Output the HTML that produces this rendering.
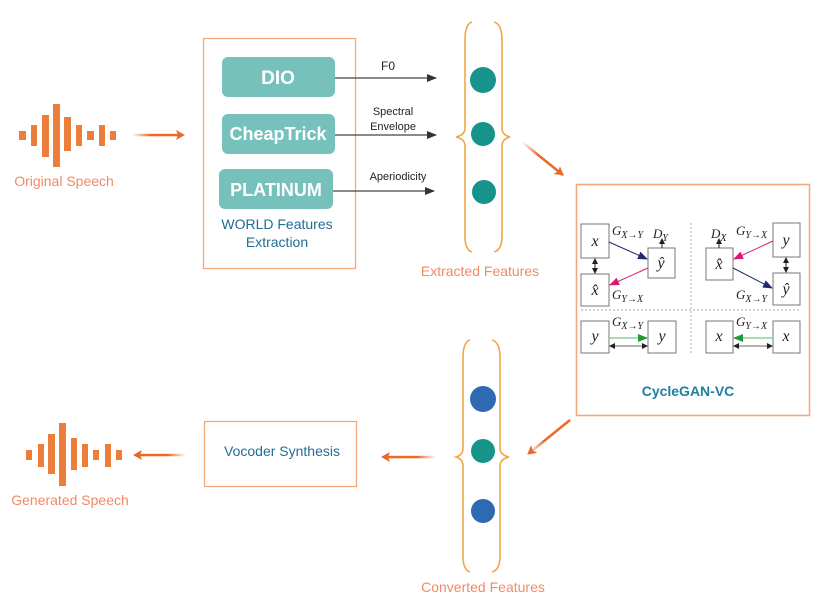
<!DOCTYPE html>
<html><head><meta charset="utf-8"><style>
html,body{margin:0;padding:0;background:#fff;}
svg{display:block;}
text{font-family:"Liberation Sans",sans-serif;}
.m text, text.m{font-family:"Liberation Serif",serif;font-style:italic;}
</style></head><body>
<svg width="830" height="608" viewBox="0 0 830 608" xmlns="http://www.w3.org/2000/svg">
<defs>
<marker id="ab" markerWidth="10" markerHeight="8" refX="9" refY="4" orient="auto" markerUnits="userSpaceOnUse"><path d="M0,0 L10,4 L0,8 z" fill="#333"/></marker>
<marker id="ao" markerWidth="10" markerHeight="10" refX="8" refY="5" orient="auto" markerUnits="userSpaceOnUse"><path d="M0,0 L9,5 L0,10 L2,5 z" fill="#e8692a"/></marker>
<marker id="sm" markerWidth="6" markerHeight="6" refX="5" refY="3" orient="auto-start-reverse" markerUnits="userSpaceOnUse"><path d="M0,0 L6,3 L0,6 z" fill="#222"/></marker>
<marker id="nv" markerWidth="10" markerHeight="8" refX="9" refY="4" orient="auto" markerUnits="userSpaceOnUse"><path d="M0,0 L10,4 L0,8 z" fill="#1f2a6e"/></marker>
<marker id="pk" markerWidth="10" markerHeight="8" refX="9" refY="4" orient="auto" markerUnits="userSpaceOnUse"><path d="M0,0 L10,4 L0,8 z" fill="#d81b75"/></marker>
<marker id="gr" markerWidth="10" markerHeight="8" refX="9" refY="4" orient="auto" markerUnits="userSpaceOnUse"><path d="M0,0 L10,4 L0,8 z" fill="#1e9a3a"/></marker>
<linearGradient id="gr1" x1="0" x2="1"><stop offset="0" stop-color="#e8692a" stop-opacity="0"/><stop offset="0.4" stop-color="#e8692a"/></linearGradient>
<linearGradient id="gr2" x1="1" x2="0"><stop offset="0" stop-color="#e8692a" stop-opacity="0"/><stop offset="0.4" stop-color="#e8692a"/></linearGradient>
</defs>

<!-- Original speech waveform -->
<g fill="#ed7d3b">
<rect x="19" y="131" width="7" height="9"/><rect x="31" y="125" width="6" height="21"/>
<rect x="42" y="115" width="7" height="42"/><rect x="53" y="104" width="7" height="63"/>
<rect x="64" y="117" width="7" height="34"/><rect x="76" y="125" width="6" height="21"/>
<rect x="87" y="131" width="7" height="9"/><rect x="99" y="125" width="6" height="21"/>
<rect x="110" y="131" width="6" height="9"/>
</g>
<text x="64" y="186" font-size="14" fill="#f08a68" text-anchor="middle">Original Speech</text>
<rect x="132" y="133.8" width="46" height="2.5" fill="url(#gr1)"/>
<path d="M176,130 L185,135 L176,140 L178,135 z" fill="#e8692a"/>

<!-- WORLD box -->
<rect x="203.5" y="38.5" width="152" height="230" fill="none" stroke="#f4a77a" stroke-width="1.3"/>
<rect x="222" y="57" width="113" height="40" rx="6" fill="#76c1bb"/>
<text x="278" y="84" font-size="19" font-weight="bold" fill="#fff" text-anchor="middle">DIO</text>
<rect x="222" y="114" width="113" height="40" rx="6" fill="#76c1bb"/>
<text x="278" y="140" font-size="18" font-weight="bold" fill="#fff" text-anchor="middle">CheapTrick</text>
<rect x="219" y="169" width="114" height="40" rx="6" fill="#76c1bb"/>
<text x="276" y="196" font-size="18" font-weight="bold" fill="#fff" text-anchor="middle">PLATINUM</text>
<text x="277" y="229" font-size="14" fill="#1f6e95" text-anchor="middle">WORLD Features</text>
<text x="277" y="247" font-size="14" fill="#1f6e95" text-anchor="middle">Extraction</text>

<!-- feature arrows -->
<line x1="335" y1="78" x2="436" y2="78" stroke="#444" stroke-width="1.2" marker-end="url(#ab)"/>
<line x1="335" y1="135" x2="436" y2="135" stroke="#444" stroke-width="1.2" marker-end="url(#ab)"/>
<line x1="333" y1="191" x2="434" y2="191" stroke="#444" stroke-width="1.2" marker-end="url(#ab)"/>
<text x="388" y="70" font-size="12" fill="#222" text-anchor="middle">F0</text>
<text x="393" y="115" font-size="11" fill="#222" text-anchor="middle">Spectral</text>
<text x="393" y="130" font-size="11" fill="#222" text-anchor="middle">Envelope</text>
<text x="398" y="180" font-size="11" fill="#222" text-anchor="middle">Aperiodicity</text>

<!-- top braces -->
<g fill="none" stroke="#f0a645" stroke-width="1.6">
<path d="M472,22 Q465,24 465,40 L465,128 Q465,135 456,137 Q465,139 465,146 L465,236 Q465,250 472,252"/>
<path d="M494,22 Q502,24 502,40 L502,128 Q502,135 510,137 Q502,139 502,146 L502,236 Q502,250 494,252"/>
</g>
<circle cx="483" cy="80" r="13" fill="#16938a"/>
<circle cx="483" cy="134" r="12" fill="#16938a"/>
<circle cx="484" cy="192" r="12" fill="#16938a"/>
<text x="480" y="276" font-size="14" fill="#f08a68" text-anchor="middle">Extracted Features</text>

<line x1="522" y1="142" x2="563" y2="175" stroke="url(#gr1)" stroke-width="2.5" marker-end="url(#ao)"/>

<!-- CycleGAN box -->
<rect x="576.5" y="184.5" width="233" height="231" fill="none" stroke="#f4a77a" stroke-width="1.5"/>
<line x1="691" y1="223" x2="691" y2="355" stroke="#aaa" stroke-dasharray="2,2"/>
<line x1="581" y1="310" x2="800" y2="310" stroke="#aaa" stroke-dasharray="2,2"/>
<g fill="#fff" stroke="#777" stroke-width="1">
<rect x="581" y="224" width="28" height="34"/><rect x="581" y="274" width="28" height="32"/>
<rect x="648" y="248" width="27" height="30"/>
<rect x="706" y="248" width="27" height="32"/><rect x="773" y="223" width="27" height="34"/><rect x="773" y="273" width="27" height="32"/>
<rect x="581" y="321" width="28" height="32"/><rect x="648" y="321" width="28" height="32"/>
<rect x="706" y="321" width="27" height="32"/><rect x="773" y="321" width="27" height="32"/>
</g>
<g class="m" font-size="16" fill="#222" text-anchor="middle">
<text x="595" y="246">x</text><text x="595" y="295">x̂</text><text x="661" y="268">ŷ</text>
<text x="719" y="269">x̂</text><text x="786" y="245">y</text><text x="786" y="294">ŷ</text>
<text x="595" y="341">y</text><text x="662" y="341">y</text>
<text x="719" y="341">x</text><text x="786" y="341">x</text>
</g>
<g class="m" font-size="13" fill="#222">
<text x="612" y="235">G<tspan font-size="10" dy="3">X→Y</tspan></text>
<text x="653" y="238">D<tspan font-size="10" dy="3">Y</tspan></text>
<text x="612" y="299">G<tspan font-size="10" dy="3">Y→X</tspan></text>
<text x="711" y="238">D<tspan font-size="10" dy="3">X</tspan></text>
<text x="736" y="235">G<tspan font-size="10" dy="3">Y→X</tspan></text>
<text x="736" y="299">G<tspan font-size="10" dy="3">X→Y</tspan></text>
<text x="612" y="326">G<tspan font-size="10" dy="3">X→Y</tspan></text>
<text x="736" y="326">G<tspan font-size="10" dy="3">Y→X</tspan></text>
</g>
<line x1="609" y1="242" x2="647" y2="259" stroke="#1f2a6e" stroke-width="1" marker-end="url(#nv)"/>
<line x1="648" y1="268" x2="610" y2="285" stroke="#d81b75" stroke-width="1" marker-end="url(#pk)"/>
<line x1="773" y1="241" x2="734" y2="259" stroke="#d81b75" stroke-width="1" marker-end="url(#pk)"/>
<line x1="733" y1="268" x2="772" y2="288" stroke="#1f2a6e" stroke-width="1" marker-end="url(#nv)"/>
<line x1="595" y1="259" x2="595" y2="273" stroke="#222" marker-start="url(#sm)" marker-end="url(#sm)"/>
<line x1="786" y1="258" x2="786" y2="272" stroke="#222" marker-start="url(#sm)" marker-end="url(#sm)"/>
<line x1="662" y1="248" x2="662" y2="239" stroke="#222" marker-end="url(#sm)"/>
<line x1="719" y1="248" x2="719" y2="239" stroke="#222" marker-end="url(#sm)"/>
<line x1="609" y1="338" x2="647" y2="338" stroke="#7bc88a" stroke-width="1.2" marker-end="url(#gr)"/>
<line x1="610" y1="346" x2="647" y2="346" stroke="#333" stroke-width="0.8" marker-start="url(#sm)" marker-end="url(#sm)"/>
<line x1="773" y1="338" x2="734" y2="338" stroke="#7bc88a" stroke-width="1.2" marker-end="url(#gr)"/>
<line x1="734" y1="346" x2="772" y2="346" stroke="#333" stroke-width="0.8" marker-start="url(#sm)" marker-end="url(#sm)"/>
<text x="688" y="396" font-size="14" font-weight="bold" fill="#1f7fa0" text-anchor="middle">CycleGAN-VC</text>

<line x1="570" y1="420" x2="528" y2="454" stroke="url(#gr1)" stroke-width="2.5" marker-end="url(#ao)"/>

<!-- bottom braces -->
<g fill="none" stroke="#f0a645" stroke-width="1.6">
<path d="M470,340 Q463,342 463,358 L463,448 Q463,455 456,457 Q463,459 463,466 L463,556 Q463,570 470,572"/>
<path d="M492,340 Q500,342 500,358 L500,448 Q500,455 509,457 Q500,459 500,466 L500,556 Q500,570 492,572"/>
</g>
<circle cx="483" cy="399" r="13" fill="#2e6ab3"/>
<circle cx="483" cy="451" r="12" fill="#16938a"/>
<circle cx="483" cy="511" r="12" fill="#2e6ab3"/>
<text x="483" y="592" font-size="14" fill="#f08a68" text-anchor="middle">Converted Features</text>

<rect x="388" y="455.8" width="48" height="2.5" fill="url(#gr2)"/>
<path d="M390,452 L381,457 L390,462 L388,457 z" fill="#e8692a"/>

<!-- vocoder -->
<rect x="204.5" y="421.5" width="152" height="65" fill="none" stroke="#f4a77a" stroke-width="1.3"/>
<text x="282" y="456" font-size="14" fill="#1f6e95" text-anchor="middle">Vocoder Synthesis</text>
<rect x="140" y="453.8" width="46" height="2.5" fill="url(#gr2)"/>
<path d="M142,450 L133,455 L142,460 L140,455 z" fill="#e8692a"/>

<!-- generated waveform -->
<g fill="#ed7d3b">
<rect x="26" y="450" width="6" height="10"/><rect x="38" y="444" width="6" height="23"/>
<rect x="48" y="434" width="7" height="40"/><rect x="59" y="423" width="7" height="63"/>
<rect x="71" y="438" width="6" height="32"/><rect x="82" y="444" width="6" height="23"/>
<rect x="93" y="450" width="6" height="10"/><rect x="105" y="444" width="6" height="23"/>
<rect x="116" y="450" width="6" height="10"/>
</g>
<text x="70" y="505" font-size="14" fill="#f08a68" text-anchor="middle">Generated Speech</text>
</svg>
</body></html>
